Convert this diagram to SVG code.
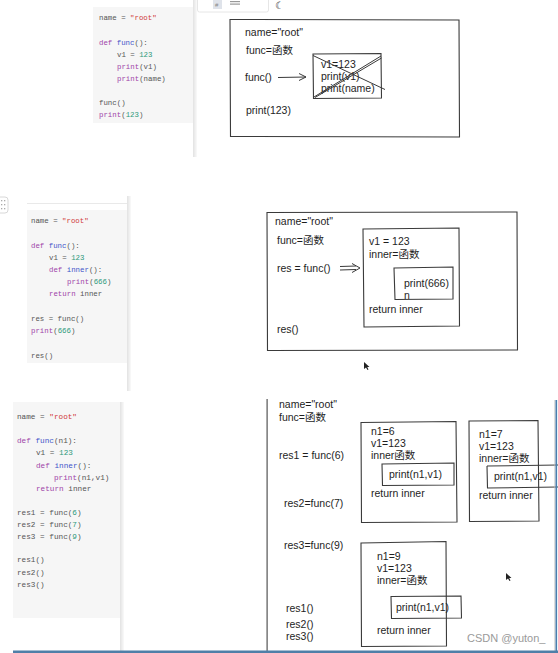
<svg xmlns="http://www.w3.org/2000/svg" width="558" height="653" viewBox="0 0 558 653">
<defs>
<style>
.code{font-family:"Liberation Mono","DejaVu Sans Mono",monospace;fill:#555}
.c1{font-size:7.4px}
.c3{font-size:7.7px}
.kw{fill:#a043a8}
.fn{fill:#3f55c9}
.st{fill:#d0383a}
.nu{fill:#2e9a7c}
.hw{font-family:"Liberation Sans","Noto Sans CJK SC",sans-serif;font-size:10.5px;fill:#1e1e1e}
.box{fill:none;stroke:#3a3a3a;stroke-width:1.1}
.ln{fill:none;stroke:#3a3a3a;stroke-width:1}
.bg{fill:#f6f6f6}
</style>
<linearGradient id="sh" x1="0" x2="1" y1="0" y2="0">
<stop offset="0" stop-color="#e2e2e2"/><stop offset="1" stop-color="#fafafa"/>
</linearGradient>
</defs>
<rect width="558" height="653" fill="#ffffff"/>

<!-- ===== Panel 1 ===== -->
<g id="panel1-code">
<rect class="bg" x="93" y="7" width="100" height="116"/>
<rect x="193" y="0" width="4" height="157" fill="url(#sh)"/>
<text class="code c1" x="99" y="19.5">name = <tspan class="st">"root"</tspan></text>
<text class="code c1" x="99" y="44.5"><tspan class="kw">def</tspan> <tspan class="fn">func</tspan>():</text>
<text class="code c1" x="117" y="56.5">v1 = <tspan class="nu">123</tspan></text>
<text class="code c1" x="117" y="68.5"><tspan class="kw">print</tspan>(v1)</text>
<text class="code c1" x="117" y="80.5"><tspan class="kw">print</tspan>(name)</text>
<text class="code c1" x="99" y="104.5">func()</text>
<text class="code c1" x="99" y="116.5"><tspan class="kw">print</tspan>(<tspan class="nu">123</tspan>)</text>
</g>
<g id="toolbar">
<rect x="197.5" y="-2" width="71" height="14" rx="2" fill="#fff" stroke="#e6e6e6"/>
<rect x="213" y="0" width="9" height="9" fill="#dfe3ea"/>
<text x="215" y="7" font-family="Liberation Sans,sans-serif" font-size="6" fill="#888">#</text>
<rect x="230" y="1" width="10" height="1.2" fill="#999"/>
<rect x="230" y="3.5" width="10" height="1.2" fill="#999"/>
<text x="275" y="9" font-family="DejaVu Sans,sans-serif" font-size="10" fill="#222">☾</text>
</g>
<g id="scope1">
<path class="box" d="M230,19.5 L459,20 L459.5,137 L230.5,136.5 Z"/>
<text class="hw" x="245" y="36">name="root"</text>
<text class="hw" x="246" y="54">func=函数</text>
<text class="hw" x="245" y="81">func()</text>
<text class="hw" x="246" y="114">print(123)</text>
</g>
<g id="func-call1">
<path class="box" d="M313,54 L381,53.5 L381.5,98 L313.5,98.5 Z"/>
<text class="hw" x="321" y="68">v1=123</text>
<text class="hw" x="321" y="80">print(v1)</text>
<text class="hw" x="321" y="92">print(name)</text>
<path class="ln" d="M313,55.5 L385,89.5 M314,97 L381,56 M315,97.5 L381.5,58"/>
</g>
<g id="connectors1">
<path class="ln" d="M278,77.5 L306,77 M299,73.5 L306,77 L299,80.5"/>
</g>

<!-- ===== Panel 2 ===== -->
<g id="grip">
<rect x="-3" y="197" width="11" height="16" rx="3" fill="#fff" stroke="#d8d8d8"/>
<g fill="#aaa"><rect x="1" y="200" width="1.3" height="1.3"/><rect x="4" y="200" width="1.3" height="1.3"/><rect x="1" y="204" width="1.3" height="1.3"/><rect x="4" y="204" width="1.3" height="1.3"/><rect x="1" y="208" width="1.3" height="1.3"/><rect x="4" y="208" width="1.3" height="1.3"/></g>
</g>
<g id="panel2-code">
<rect x="27" y="203" width="102" height="0.8" fill="#e4e4e4"/>
<rect class="bg" x="27" y="210" width="102" height="153"/>
<rect x="127" y="196" width="4" height="195" fill="url(#sh)"/>
<text class="code c1" x="31" y="222.5">name = <tspan class="st">"root"</tspan></text>
<text class="code c1" x="31" y="247.5"><tspan class="kw">def</tspan> <tspan class="fn">func</tspan>():</text>
<text class="code c1" x="49" y="259.5">v1 = <tspan class="nu">123</tspan></text>
<text class="code c1" x="49" y="271.5"><tspan class="kw">def</tspan> <tspan class="fn">inner</tspan>():</text>
<text class="code c1" x="67" y="283.5"><tspan class="kw">print</tspan>(<tspan class="nu">666</tspan>)</text>
<text class="code c1" x="49" y="295.5"><tspan class="kw">return</tspan> inner</text>
<text class="code c1" x="31" y="320.5">res = func()</text>
<text class="code c1" x="31" y="332.5"><tspan class="kw">print</tspan>(<tspan class="nu">666</tspan>)</text>
<text class="code c1" x="31" y="357.5">res()</text>
</g>
<g id="scope2">
<path class="box" d="M267,212.5 L517,212 L517.5,350 L267.5,350.5 Z"/>
<text class="hw" x="275" y="225">name="root"</text>
<text class="hw" x="277" y="244">func=函数</text>
<text class="hw" x="277" y="272">res = func()</text>
<text class="hw" x="277" y="333">res()</text>
</g>
<g id="func-call2">
<path class="box" d="M363,229 L459,228 L459.5,326 L364,327 Z"/>
<text class="hw" x="369" y="245">v1 = 123</text>
<text class="hw" x="369" y="258">inner=函数</text>
<text class="hw" x="369" y="313">return inner</text>
</g>
<g id="inner2">
<path class="box" d="M394,268 L453,267 L453,299 L395,299.5 Z"/>
<text class="hw" x="404" y="287">print(666)</text>
<text class="hw" x="404" y="299">n</text>
</g>
<g id="connectors2">
<path class="ln" d="M340,266.5 L356,266 M340,270 L356,269.5 M352,263.5 L360,268 L352,272.5"/>
</g>
<path d="M364,362 L364,369 L366,367.5 L367.5,370 L368.5,369.5 L367.2,367 L369.5,367 Z" fill="#222"/>

<!-- ===== Panel 3 ===== -->
<g id="panel3-code">
<rect class="bg" x="13" y="402" width="107" height="216"/>
<rect x="120" y="402" width="4" height="249" fill="url(#sh)"/>
<rect x="266.5" y="399" width="1.2" height="252" fill="#555"/>
<text class="code c3" x="17" y="418.5">name = <tspan class="st">"root"</tspan></text>
<text class="code c3" x="17" y="443"><tspan class="kw">def</tspan> <tspan class="fn">func</tspan>(n1):</text>
<text class="code c3" x="36" y="455"><tspan class="kw"/>v1 = <tspan class="nu">123</tspan></text>
<text class="code c3" x="36" y="468"><tspan class="kw">def</tspan> <tspan class="fn">inner</tspan>():</text>
<text class="code c3" x="54" y="480"><tspan class="kw">print</tspan>(n1,v1)</text>
<text class="code c3" x="36" y="491"><tspan class="kw">return</tspan> inner</text>
<text class="code c3" x="17" y="514.5">res1 = func(<tspan class="nu">6</tspan>)</text>
<text class="code c3" x="17" y="526.5">res2 = func(<tspan class="nu">7</tspan>)</text>
<text class="code c3" x="17" y="538.5">res3 = func(<tspan class="nu">9</tspan>)</text>
<text class="code c3" x="17" y="562">res1()</text>
<text class="code c3" x="17" y="574.5">res2()</text>
<text class="code c3" x="17" y="587">res3()</text>
</g>
<g id="scope3">
<text class="hw" x="279" y="408">name="root"</text>
<text class="hw" x="279" y="421">func=函数</text>
<text class="hw" x="279" y="459">res1 = func(6)</text>
<text class="hw" x="284" y="507">res2=func(7)</text>
<text class="hw" x="284" y="549">res3=func(9)</text>
<text class="hw" x="286" y="612">res1()</text>
<text class="hw" x="286" y="628">res2()</text>
<text class="hw" x="286" y="640">res3()</text>
</g>
<g id="call-n1-6">
<path class="box" d="M361,422.5 L456,421.5 L457,522 L361.5,522.5 Z"/>
<text class="hw" x="371" y="435">n1=6</text>
<text class="hw" x="371" y="447">v1=123</text>
<text class="hw" x="371" y="459">inner函数</text>
<path class="box" d="M382,464 L454,463 L454,485 L382.5,485.5 Z"/>
<text class="hw" x="389" y="478">print(n1,v1)</text>
<text class="hw" x="371" y="497">return inner</text>
</g>
<g id="call-n1-7">
<path class="box" d="M469,421 L538,420.5 L539,521 L469.5,521.5 Z"/>
<text class="hw" x="479" y="438">n1=7</text>
<text class="hw" x="479" y="450">v1=123</text>
<text class="hw" x="479" y="462">inner=函数</text>
<path class="box" d="M487,466 L560,465 M487,466 L487.5,488 L560,487"/>
<text class="hw" x="494" y="480">print(n1,v1)</text>
<text class="hw" x="479" y="499">return inner</text>
</g>
<g id="call-n1-9">
<path class="box" d="M361,543 L446,541.5 L446.5,646 L361.5,646.5 Z"/>
<text class="hw" x="377" y="560">n1=9</text>
<text class="hw" x="377" y="572">v1=123</text>
<text class="hw" x="377" y="584">inner=函数</text>
<path class="box" d="M391,596.5 L461,596 L461.5,618 L391.5,618.5 Z"/>
<text class="hw" x="396" y="611">print(n1,v1)</text>
<text class="hw" x="377" y="634">return inner</text>
</g>
<rect x="554.5" y="400" width="0.8" height="251" fill="#bbb"/>
<rect x="555.5" y="400" width="1.6" height="251" fill="#4a7fae"/>
<rect x="13" y="650.5" width="545" height="2.5" fill="#4f7fa8"/>
<path d="M506,573 L506,580 L508,578.5 L509.5,581 L510.5,580.5 L509.2,578 L511.5,578 Z" fill="#222"/>
<text x="467" y="642" font-family="Liberation Sans,Noto Sans,sans-serif" font-size="11" fill="#9a9a9a">CSDN @yuton_</text>
</svg>
